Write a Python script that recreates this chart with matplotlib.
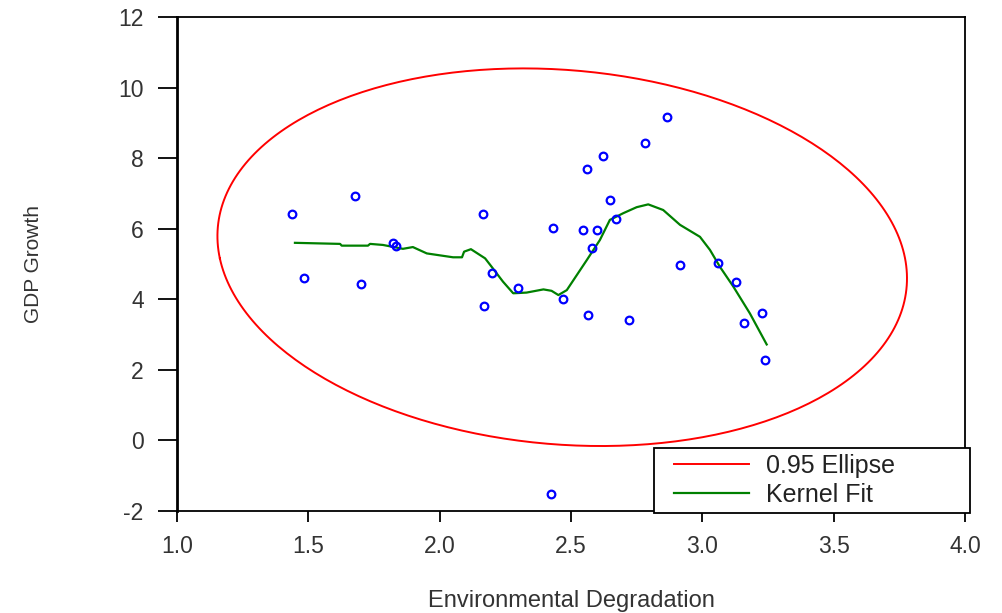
import numpy as np
import matplotlib.pyplot as plt
from matplotlib.lines import Line2D
from matplotlib.legend_handler import HandlerLine2D

plt.rcParams['font.family'] = ['Liberation Sans', 'DejaVu Sans']
plt.rcParams['axes.unicode_minus'] = False

# scatter data (environmental degradation vs GDP growth)
env_deg = [1.438, 1.483, 1.678, 1.700, 1.822, 1.832, 2.165, 2.169, 2.200, 2.300,
           2.430, 2.424, 2.470, 2.545, 2.560, 2.565, 2.580, 2.600, 2.620, 2.650,
           2.670, 2.720, 2.780, 2.865, 2.915, 3.060, 3.128, 3.160, 3.227, 3.240]
gdp_growth = [6.42, 4.60, 6.93, 4.43, 5.60, 5.50, 6.42, 3.81, 4.75, 4.32,
              6.02, -1.52, 4.00, 5.96, 7.69, 3.56, 5.45, 5.96, 8.06, 6.81,
              6.28, 3.41, 8.43, 9.17, 4.97, 5.03, 4.49, 3.33, 3.61, 2.28]

# kernel fit curve
kernel_x = [1.449, 1.621, 1.627, 1.727, 1.735, 1.784, 1.860, 1.898, 1.951, 2.051,
            2.085, 2.093, 2.119, 2.173, 2.198, 2.241, 2.280, 2.331, 2.395, 2.426,
            2.452, 2.484, 2.560, 2.610, 2.648, 2.699, 2.750, 2.794, 2.851, 2.915,
            2.991, 3.029, 3.067, 3.118, 3.181, 3.245]
kernel_y = [5.60, 5.57, 5.52, 5.52, 5.57, 5.54, 5.43, 5.48, 5.30, 5.19,
            5.19, 5.35, 5.42, 5.16, 4.92, 4.50, 4.17, 4.19, 4.28, 4.24,
            4.12, 4.26, 5.11, 5.68, 6.25, 6.44, 6.61, 6.69, 6.53, 6.11,
            5.77, 5.40, 4.92, 4.36, 3.60, 2.72]

xticks = [1.0, 1.5, 2.0, 2.5, 3.0, 3.5, 4.0]
yticks = [-2, 0, 2, 4, 6, 8, 10, 12]


def conf_ellipse(x, y, level_c=6.7, npts=300):
    # 0.95 ellipse: mean +/- sqrt(c) * cov^(1/2)
    x = np.asarray(x)
    y = np.asarray(y)
    cov = np.cov(x, y)
    vals, vecs = np.linalg.eigh(cov)
    t = np.linspace(0, 2 * np.pi, npts)
    circ = np.vstack([np.cos(t), np.sin(t)])
    pts = vecs @ (np.sqrt(vals * level_c)[:, None] * circ)
    return pts[0] + x.mean(), pts[1] + y.mean()


fig = plt.figure(figsize=(10.02, 6.13), dpi=100)
ax = fig.add_axes([177 / 1002, 1 - 511 / 613, (965 - 177) / 1002, (511 - 17) / 613])

ex, ey = conf_ellipse(env_deg, gdp_growth)
ax.plot(ex, ey, color='#ff0000', lw=1.4, label='0.95 Ellipse')
ax.plot(kernel_x, kernel_y, color='#008000', lw=1.6, label='Kernel Fit')
ax.plot(env_deg, gdp_growth, 'o', ms=5.5, mfc='none', mec='#0000ff', mew=1.6)

ax.set_xlim(1.0, 4.0)
ax.set_ylim(-2, 12)
ax.set_xticks(xticks)
ax.set_xticklabels(['%.1f' % v for v in xticks])
ax.set_yticks(yticks)
ax.tick_params(axis='y', direction='out', length=14, width=1.3, pad=10,
               labelsize=16.5, labelcolor='#333333')
ax.tick_params(axis='x', direction='out', length=8, width=1.3, pad=9,
               labelsize=16.5, labelcolor='#333333')
for s in ax.spines.values():
    s.set_linewidth(1.3)
ax.spines['left'].set_linewidth(2)

ax.set_xlabel('Environmental Degradation', fontsize=17, color='#333333', labelpad=23)
ax.set_ylabel('GDP Growth', fontsize=15, color='#333333', labelpad=54)

leg = ax.legend(loc='lower left',
                bbox_to_anchor=(654 / 1002, 1 - 513 / 613, 316 / 1002, 66 / 613),
                bbox_transform=fig.transFigure, mode='expand', fontsize=18,
                frameon=True, fancybox=False, borderaxespad=0, numpoints=2,
                handlelength=4.1, handletextpad=0.12, borderpad=0.25,
                labelspacing=0.2,
                handler_map={Line2D: HandlerLine2D(marker_pad=0.55)})
leg.get_frame().set_edgecolor('black')
leg.get_frame().set_linewidth(1.3)
leg.get_frame().set_alpha(1)
for t in leg.get_texts():
    t.set_color('#222222')

fig.savefig('out.png', dpi=100)
